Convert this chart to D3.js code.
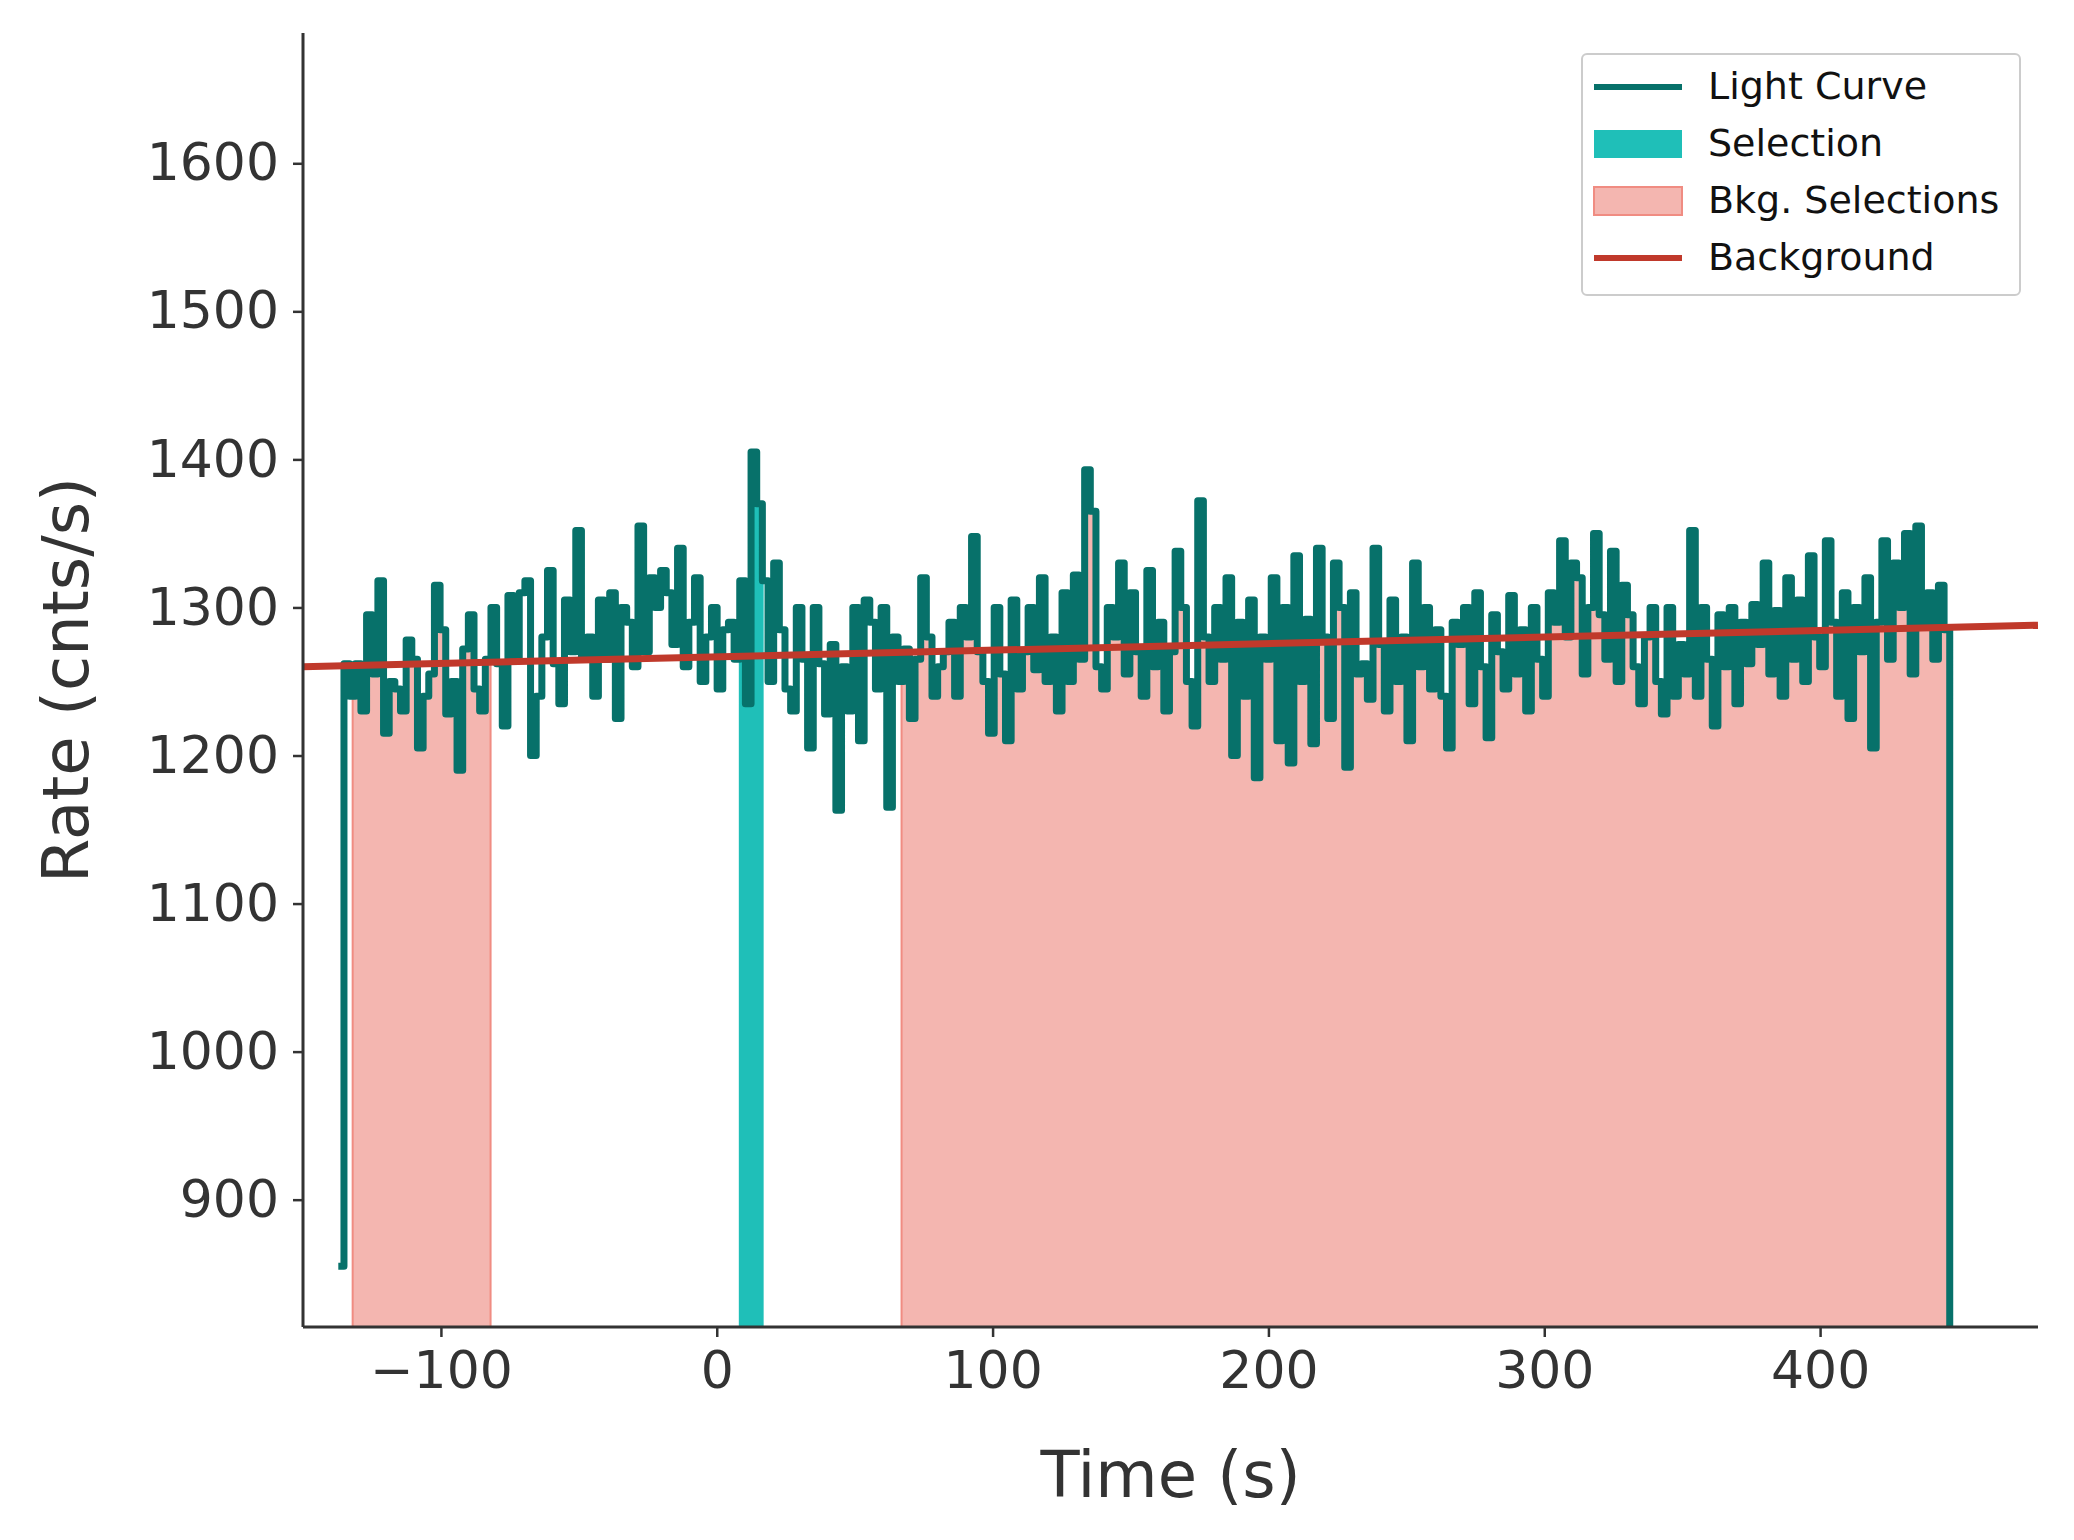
<!DOCTYPE html>
<html><head><meta charset="utf-8">
<script src="https://cdn.jsdelivr.net/npm/d3@7"></script>
<style>body{margin:0;background:#fff}text{font-family:"DejaVu Sans",sans-serif}</style>
</head><body><div id="chart"></div>
<script>
var binStart = -137.2, binWidth = 2.048;
var rates = [
855,1262,1240,1262,1230,1295,1255,1318,1215,1250,1245,1230,1278,1265,1205,1240,1255,1315,1285,1228,
1250,1190,1272,1295,1245,1230,1265,1300,1262,1220,1308,1265,1310,1318,1200,1240,1280,1325,1262,1235,
1305,1270,
1352,1265,1280,1240,1305,1265,1310,1225,1300,1290,1260,1355,1270,1320,1300,1325,1310,1275,1340,1260,
1290,1320,1250,1280,1300,1245,1285,1290,1265,1318,1235,1405,1370,1318,1250,1330,1285,1245,1230,1300,
1265,1205,1300,1262,1228,1275,1163,1260,1230,1300,1210,1305,1290,1245,1300,1165,1280,1250,1272,1225,
1265,1320,1280,1240,1260,1270,1290,1240,1300,1280,1348,1270,1250,1215,1300,1255,1210,1305,1245,1270,
1300,1258,1320,1250,1280,1230,1310,1250,1322,1265,
1393,1365,1260,1245,1300,1280,1330,1255,1310,1270,1240,1325,1260,1290,1230,1270,1338,1300,1250,1220,
1372,1280,1250,1300,1265,1320,1200,1290,1240,1305,1185,1280,1265,1320,1210,1300,1195,1335,1250,1292,
1208,1340,1280,1225,1330,1300,1192,1310,1255,1262,1238,1340,1275,1230,1305,1250,1280,1210,1330,1260,
1300,1245,1285,1240,1205,1290,1275,1300,1235,1310,1260,1212,1295,1270,1245,1308,1255,1285,1230,1300,
1265,1240,1310,1290,1345,1280,1330,1320,1255,1300,1350,1295,1265,1338,1250,1315,1295,1260,1235,1280,
1300,1250,1228,1300,1240,1275,1255,1352,1240,1300,1265,1220,1295,1260,1300,1235,1290,1262,1302,
1275,1330,1255,1298,1240,1320,1265,1305,1250,1335,1280,1260,1345,1290,1240,1310,1225,1300,1270,1320,
1205,1290,1345,1265,1330,1300,1350,1255,1355,1290,1310,1265,1315,1285
];
var endTime = 447;
var selection = [8, 17];
var bkgSelections = [[-132, -82], [67, 447]];
var bkgTime = [-150, 479];
var bkgRate = [1260, 1288];
var xTicks = [-100, 0, 100, 200, 300, 400];
var yTicks = [900, 1000, 1100, 1200, 1300, 1400, 1500, 1600];
binWidth = (endTime - binStart) / rates.length;

var W = 2074, H = 1540;
var m = {left: 303, right: 36, top: 33, bottom: 213};
var w = W - m.left - m.right, h = H - m.top - m.bottom;
var svg = d3.select("#chart").append("svg").attr("width", W).attr("height", H);
var g = svg.append("g").attr("transform", "translate(" + m.left + "," + m.top + ")");
var x = d3.scaleLinear().domain([-150, 479]).range([0, w]);
var y = d3.scaleLinear().domain([814, 1688]).range([h, 0]);

g.append("clipPath").attr("id", "clip").append("rect").attr("width", w).attr("height", h);
var plot = g.append("g").attr("clip-path", "url(#clip)");

var pts = rates.map(function (r, i) { return {t: binStart + i * binWidth, r: r}; });
pts.push({t: endTime, r: 700});
function rateAt(t) {
  var i = Math.floor((t - binStart) / binWidth);
  i = Math.max(0, Math.min(rates.length - 1, i));
  return rates[i];
}
function areaBetween(a, b) {
  var d = [{t: a, r: rateAt(a)}];
  pts.forEach(function (p) { if (p.t > a && p.t < b) d.push(p); });
  d.push({t: b, r: rateAt(b - 0.001)});
  return d;
}
var area = d3.area().curve(d3.curveStepAfter)
  .x(function (d) { return x(d.t); }).y0(h + 10).y1(function (d) { return y(d.r); });

bkgSelections.forEach(function (s) {
  plot.append("path").datum(areaBetween(s[0], s[1])).attr("d", area)
    .attr("fill", "#f4b6b0").attr("stroke", "#f08c82").attr("stroke-width", 2);
});
plot.append("path").datum(areaBetween(selection[0], selection[1])).attr("d", area)
  .attr("fill", "#1fbfb8");

plot.append("path").datum(pts)
  .attr("d", d3.line().curve(d3.curveStepAfter).x(function (d) { return x(d.t); }).y(function (d) { return y(d.r); }))
  .attr("fill", "none").attr("stroke", "#07716a").attr("stroke-width", 7).attr("stroke-linejoin", "round");

plot.append("line").attr("x1", x(bkgTime[0])).attr("x2", x(bkgTime[1]))
  .attr("y1", y(bkgRate[0])).attr("y2", y(bkgRate[1]))
  .attr("stroke", "#c0392b").attr("stroke-width", 7);

var xa = g.append("g").attr("transform", "translate(0," + h + ")")
  .call(d3.axisBottom(x).tickValues(xTicks).tickSize(10).tickPadding(14).tickFormat(function (d) { return d < 0 ? "\u2212" + (-d) : d; }));
var ya = g.append("g").call(d3.axisLeft(y).tickValues(yTicks).tickSize(10).tickPadding(14).tickFormat(d3.format("d")));
[xa, ya].forEach(function (a) {
  a.select(".domain").attr("stroke", "#333").attr("stroke-width", 3);
  a.selectAll(".tick line").attr("stroke", "#333").attr("stroke-width", 2.5);
  a.selectAll("text").attr("font-size", 52).attr("fill", "#333").attr("font-family", "DejaVu Sans");
});
xa.select(".domain").attr("d", "M0,0H" + w);
ya.select(".domain").attr("d", "M0," + h + "V0");

g.append("text").attr("x", w / 2).attr("y", h + 170).attr("text-anchor", "middle")
  .attr("font-size", 64).attr("fill", "#333").text("Time (s)");
g.append("text").attr("transform", "translate(-237," + h / 2 + ") rotate(-90)").attr("text-anchor", "middle")
  .attr("dy", "0.35em").attr("font-size", 64).attr("fill", "#333").text("Rate (cnts/s)");

var lg = svg.append("g").attr("transform", "translate(1582,54)");
lg.append("rect").attr("width", 438).attr("height", 241).attr("rx", 5)
  .attr("fill", "#fff").attr("fill-opacity", 0.8).attr("stroke", "#ccc").attr("stroke-width", 2);
var items = [
  {label: "Light Curve", type: "line", color: "#07716a"},
  {label: "Selection", type: "box", color: "#1fbfb8"},
  {label: "Bkg. Selections", type: "box", color: "#f4b6b0", stroke: "#f08c82"},
  {label: "Background", type: "line", color: "#c0392b"}
];
items.forEach(function (it, i) {
  var row = lg.append("g").attr("transform", "translate(12," + (33 + i * 57) + ")");
  if (it.type === "line") row.append("line").attr("x2", 88).attr("stroke", it.color).attr("stroke-width", 6);
  else row.append("rect").attr("y", -14).attr("width", 88).attr("height", 28).attr("fill", it.color)
    .attr("stroke", it.stroke || "none").attr("stroke-width", 2);
  row.append("text").attr("x", 114).attr("y", 12).attr("font-size", 38).attr("fill", "#111").text(it.label);
});
</script></body></html>
